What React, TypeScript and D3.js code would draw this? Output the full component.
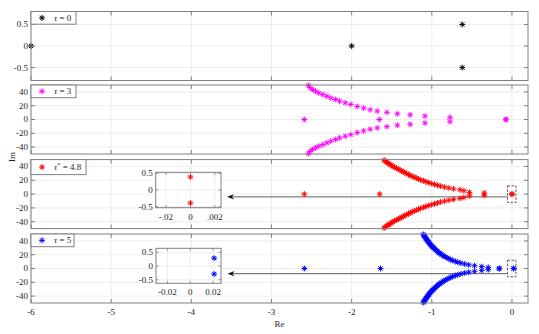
import React from 'react';
import * as d3 from 'd3';

// ---------- axes ticks ----------
const xTicks = [-6, -5, -4, -3, -2, -1, 0];
const xTickLabels = ['-6', '-5', '-4', '-3', '-2', '-1', '0'];
const yTicksSmall = [0.5, 0, -0.5];
const yTickLabelsSmall = ['0.5', '0', '-0.5'];
const yTicksBig = [40, 20, 0, -20, -40];
const yTickLabelsBig = ['40', '20', '0', '-20', '-40'];
const inset3XTicks = [-0.002, 0, 0.002];
const inset3XTickLabels = ['-.02', '0', '.002'];
const inset4XTicks = [-0.02, 0, 0.02];
const inset4XTickLabels = ['-0.02', '0', '0.02'];

// ---------- tau = 0 ----------
const tau0Re = [-6, -2, -0.62, -0.62];
const tau0Im = [0, 0, 0.5, -0.5];

// ---------- tau = 3 ----------
const tau3RealRe = [-2.59, -1.655];
const tau3ChainRe = [-2.54, -2.52, -2.49, -2.45, -2.41, -2.36, -2.31, -2.26, -2.2, -2.15, -2.08, -2.01, -1.93, -1.85, -1.77, -1.68, -1.56, -1.43, -1.27, -1.085, -0.773, -0.075];
const tau3ChainIm = [49.6, 46.3, 43.5, 41.0, 38.6, 36.3, 33.8, 31.4, 29.1, 26.6, 24.2, 21.9, 19.0, 16.5, 14.1, 12.2, 10.4, 8.3, 6.9, 5.0, 3.2, 0.4];

// ---------- tau* = 4.8 ----------
const tau48RealRe = [-2.59, -1.65];
const tau48ChainRe = [-1.595, -1.58, -1.566, -1.55, -1.533, -1.517, -1.5, -1.485, -1.463, -1.442, -1.418, -1.397, -1.376, -1.356, -1.335, -1.313, -1.29, -1.27, -1.245, -1.22, -1.194, -1.165, -1.14, -1.105, -1.075, -1.044, -1.006, -0.966, -0.93, -0.89, -0.84, -0.787, -0.728, -0.649, -0.6, -0.53, -0.345, 0];
const tau48ChainIm = [49.2, 47.9, 46.6, 45.3, 44.0, 42.7, 41.4, 40.1, 38.8, 37.5, 36.2, 34.9, 33.6, 32.3, 31.0, 29.7, 28.4, 27.1, 25.8, 24.5, 23.2, 21.9, 20.6, 19.3, 18.0, 16.7, 15.4, 14.1, 12.8, 11.5, 10.2, 8.9, 7.6, 6.3, 5.0, 2.5, 1.7, 0.39];
const tau48ZoomRe = [0, 0];
const tau48ZoomIm = [0.39, -0.39];

// ---------- tau = 5 ----------
const tau5RealRe = [-2.59, -1.64];
const tau5ChainRe = [-1.106, -1.099, -1.092, -1.085, -1.078, -1.071, -1.063, -1.056, -1.047, -1.039, -1.031, -1.022, -1.013, -1.003, -0.993, -0.983, -0.972, -0.961, -0.949, -0.937, -0.924, -0.91, -0.897, -0.881, -0.864, -0.848, -0.829, -0.809, -0.787, -0.762, -0.738, -0.707, -0.676, -0.637, -0.59, -0.539, -0.467, -0.377, -0.296, -0.158, 0.021];
const tau5ChainIm = [49.4, 48.1, 46.9, 45.6, 44.3, 43.1, 41.8, 40.6, 39.3, 38.0, 36.8, 35.5, 34.3, 33.0, 31.7, 30.5, 29.2, 28.0, 26.7, 25.4, 24.2, 22.9, 21.7, 20.4, 19.1, 17.9, 16.6, 15.4, 14.1, 12.8, 11.6, 10.3, 9.1, 7.8, 6.5, 5.3, 4.0, 2.8, 1.7, 0.6, 0.29];
const tau5ZoomRe = [0.021, 0.021];
const tau5ZoomIm = [0.29, -0.29];

// ---------- layout ----------
const W = 539;
const H = 334;
const PX0 = 31;
const PX1 = 528;
const panelTops = [11.5, 85, 159.6, 234];
const panelH = 69;
const FONT = '"Liberation Serif", "DejaVu Serif", serif';
const BOX = '#808080';
const GRID = '#e8e8e8';
const TXT = '#262626';

type Pt = [number, number];

const star = (r: number) => {
  const d = r * 0.72;
  return `M${-r},0H${r}M0,${-r}V${r}M${-d},${-d}L${d},${d}M${-d},${d}L${d},${-d}`;
};

const withConj = (re: number[], im: number[]): Pt[] => {
  const pts: Pt[] = [];
  re.forEach((r, i) => {
    pts.push([r, im[i]]);
    if (im[i] !== 0) pts.push([r, -im[i]]);
  });
  return pts;
};
const realPts = (re: number[]): Pt[] => re.map((r) => [r, 0] as Pt);

const Markers = ({ pts, xs, ys, color, r = 2.9 }: { pts: Pt[]; xs: any; ys: any; color: string; r?: number }) => (
  <g stroke={color} strokeWidth={1} fill="none">
    {pts.map((p, i) => (
      <path key={i} d={star(r)} transform={`translate(${xs(p[0])},${ys(p[1])})`} />
    ))}
  </g>
);

const Panel = ({ top, ydom, yt, ytl, showXLabels, children }: any) => {
  const xs = d3.scaleLinear().domain([-6, 0.2]).range([PX0, PX1]);
  const ys = d3.scaleLinear().domain(ydom).range([top + panelH, top]);
  const bottom = top + panelH;
  const tl = 4;
  return (
    <g>
      <rect x={PX0} y={top} width={PX1 - PX0} height={panelH} fill="#fff" />
      {xTicks.map((t) => (
        <line key={'gx' + t} x1={xs(t)} x2={xs(t)} y1={top} y2={bottom} stroke={GRID} strokeWidth={0.8} />
      ))}
      {yt.map((t: number) => (
        <line key={'gy' + t} x1={PX0} x2={PX1} y1={ys(t)} y2={ys(t)} stroke={GRID} strokeWidth={0.8} />
      ))}
      {children(xs, ys)}
      <rect x={PX0} y={top} width={PX1 - PX0} height={panelH} fill="none" stroke={BOX} strokeWidth={1} />
      {xTicks.map((t) => (
        <g key={'tx' + t} stroke={BOX} strokeWidth={1}>
          <line x1={xs(t)} x2={xs(t)} y1={bottom} y2={bottom - tl} />
          <line x1={xs(t)} x2={xs(t)} y1={top} y2={top + tl} />
        </g>
      ))}
      {yt.map((t: number) => (
        <g key={'ty' + t} stroke={BOX} strokeWidth={1}>
          <line x1={PX0} x2={PX0 + tl} y1={ys(t)} y2={ys(t)} />
          <line x1={PX1} x2={PX1 - tl} y1={ys(t)} y2={ys(t)} />
        </g>
      ))}
      {yt.map((t: number, i: number) => (
        <text key={'yl' + t} x={PX0 - 3} y={ys(t)} dy="0.33em" textAnchor="end" fontSize={9} fill={TXT} fontFamily={FONT}>
          {ytl[i]}
        </text>
      ))}
      {showXLabels &&
        xTicks.map((t, i) => (
          <text key={'xl' + t} x={xs(t)} y={bottom + 12} textAnchor="middle" fontSize={9} fill={TXT} fontFamily={FONT}>
            {xTickLabels[i]}
          </text>
        ))}
    </g>
  );
};

const Legend = ({ top, width, height, color, label }: any) => (
  <g>
    <rect x={PX0} y={top} width={width} height={height} fill="#fff" stroke={BOX} strokeWidth={1} />
    <path d={star(2.9)} transform={`translate(${PX0 + 11},${top + height / 2})`} stroke={color} strokeWidth={1} fill="none" />
    <text x={PX0 + 23} y={top + height / 2} dy="0.34em" fontSize={9} fill={TXT} fontFamily={FONT}>
      {label}
    </text>
  </g>
);

const Inset = ({ x0, x1, y0, y1, xdom, ydom, xt, xtl, pts, color }: any) => {
  const xs = d3.scaleLinear().domain(xdom).range([x0, x1]);
  const ys = d3.scaleLinear().domain(ydom).range([y1, y0]);
  const tl = 2.5;
  return (
    <g>
      <rect x={x0} y={y0} width={x1 - x0} height={y1 - y0} fill="#fff" />
      {xt.map((t: number) => (
        <line key={'gx' + t} x1={xs(t)} x2={xs(t)} y1={y0} y2={y1} stroke={GRID} strokeWidth={0.8} />
      ))}
      {yTicksSmall.map((t) => (
        <line key={'gy' + t} x1={x0} x2={x1} y1={ys(t)} y2={ys(t)} stroke={GRID} strokeWidth={0.8} />
      ))}
      <Markers pts={pts} xs={xs} ys={ys} color={color} />
      <rect x={x0} y={y0} width={x1 - x0} height={y1 - y0} fill="none" stroke={BOX} strokeWidth={1} />
      {xt.map((t: number) => (
        <g key={'tx' + t} stroke={BOX} strokeWidth={0.8}>
          <line x1={xs(t)} x2={xs(t)} y1={y1} y2={y1 - tl} />
          <line x1={xs(t)} x2={xs(t)} y1={y0} y2={y0 + tl} />
        </g>
      ))}
      {yTicksSmall.map((t) => (
        <g key={'ty' + t} stroke={BOX} strokeWidth={0.8}>
          <line x1={x0} x2={x0 + tl} y1={ys(t)} y2={ys(t)} />
          <line x1={x1} x2={x1 - tl} y1={ys(t)} y2={ys(t)} />
        </g>
      ))}
      {yTicksSmall.map((t, i) => (
        <text key={'yl' + t} x={x0 - 3} y={ys(t)} dy="0.33em" textAnchor="end" fontSize={9} fill={TXT} fontFamily={FONT}>
          {yTickLabelsSmall[i]}
        </text>
      ))}
      {xt.map((t: number, i: number) => (
        <text key={'xl' + t} x={xs(t)} y={y1 + 12} textAnchor="middle" fontSize={9} fill={TXT} fontFamily={FONT}>
          {xtl[i]}
        </text>
      ))}
    </g>
  );
};

const Annot = ({ xs, ys, yArrow, tipX }: any) => {
  const bx0 = xs(-0.055);
  const bx1 = xs(0.05);
  const by0 = ys(12);
  const by1 = ys(-12);
  const ya = ys(yArrow);
  return (
    <g>
      <rect x={bx0} y={by0} width={bx1 - bx0} height={by1 - by0} fill="none" stroke="#333" strokeWidth={0.8} strokeDasharray="2.5,1.5" />
      <line x1={bx0} x2={tipX + 4} y1={ya} y2={ya} stroke="#333" strokeWidth={0.8} />
      <path d={`M${tipX},${ya}L${tipX + 7},${ya - 2.6}L${tipX + 5},${ya}L${tipX + 7},${ya + 2.6}Z`} fill="#111" />
    </g>
  );
};

export default function App() {
  return (
    <svg width={W} height={H} style={{ position: 'absolute', left: 0, top: 0, background: '#fff' }}>
      <rect width={W} height={H} fill="#fff" />
      <Panel top={panelTops[0]} ydom={[-0.8, 0.8]} yt={yTicksSmall} ytl={yTickLabelsSmall} showXLabels={false}>
        {(xs: any, ys: any) => <Markers pts={tau0Re.map((r, i) => [r, tau0Im[i]] as Pt)} xs={xs} ys={ys} color="#000" />}
      </Panel>
      <Panel top={panelTops[1]} ydom={[-50, 50]} yt={yTicksBig} ytl={yTickLabelsBig} showXLabels={false}>
        {(xs: any, ys: any) => (
          <Markers pts={[...realPts(tau3RealRe), ...withConj(tau3ChainRe, tau3ChainIm)]} xs={xs} ys={ys} color="#ff00ff" />
        )}
      </Panel>
      <Panel top={panelTops[2]} ydom={[-50, 50]} yt={yTicksBig} ytl={yTickLabelsBig} showXLabels={false}>
        {(xs: any, ys: any) => (
          <g>
            <Annot xs={xs} ys={ys} yArrow={-4} tipX={227} />
            <Markers pts={[...realPts(tau48RealRe), ...withConj(tau48ChainRe, tau48ChainIm)]} xs={xs} ys={ys} color="#ff0000" />
          </g>
        )}
      </Panel>
      <Panel top={panelTops[3]} ydom={[-50, 50]} yt={yTicksBig} ytl={yTickLabelsBig} showXLabels={true}>
        {(xs: any, ys: any) => (
          <g>
            <Annot xs={xs} ys={ys} yArrow={-7.5} tipX={227.5} />
            <Markers pts={[...realPts(tau5RealRe), ...withConj(tau5ChainRe, tau5ChainIm)]} xs={xs} ys={ys} color="#0000ff" />
          </g>
        )}
      </Panel>

      <Legend top={panelTops[0]} width={45} height={12.7} color="#000" label={<><tspan fontStyle="italic">τ</tspan> = 0</>} />
      <Legend top={panelTops[1]} width={45} height={12.7} color="#ff00ff" label={<><tspan fontStyle="italic">τ</tspan> = 3</>} />
      <Legend
        top={panelTops[2]}
        width={55}
        height={15}
        color="#ff0000"
        label={
          <>
            <tspan fontStyle="italic">τ</tspan>
            <tspan dy={-3} fontSize={6.5}>*</tspan>
            <tspan dy={3}> = 4.8</tspan>
          </>
        }
      />
      <Legend top={panelTops[3]} width={43} height={12.7} color="#0000ff" label={<><tspan fontStyle="italic">τ</tspan> = 5</>} />

      <Inset
        x0={155.7}
        x1={221}
        y0={172.3}
        y1={207.7}
        xdom={[-0.00284, 0.0025]}
        ydom={[-0.53, 0.53]}
        xt={inset3XTicks}
        xtl={inset3XTickLabels}
        pts={tau48ZoomRe.map((r, i) => [r, tau48ZoomIm[i]] as Pt)}
        color="#ff0000"
      />
      <Inset
        x0={156}
        x1={221}
        y0={248.3}
        y1={283.3}
        xdom={[-0.03, 0.027]}
        ydom={[-0.63, 0.65]}
        xt={inset4XTicks}
        xtl={inset4XTickLabels}
        pts={tau5ZoomRe.map((r, i) => [r, tau5ZoomIm[i]] as Pt)}
        color="#0000ff"
      />

      <text x={(PX0 + PX1) / 2} y={327} textAnchor="middle" fontSize={9} fill={TXT} fontFamily={FONT}>
        Re
      </text>
      <text transform={`translate(15,157) rotate(-90)`} textAnchor="middle" fontSize={9} fill={TXT} fontFamily={FONT}>
        Im
      </text>
    </svg>
  );
}
